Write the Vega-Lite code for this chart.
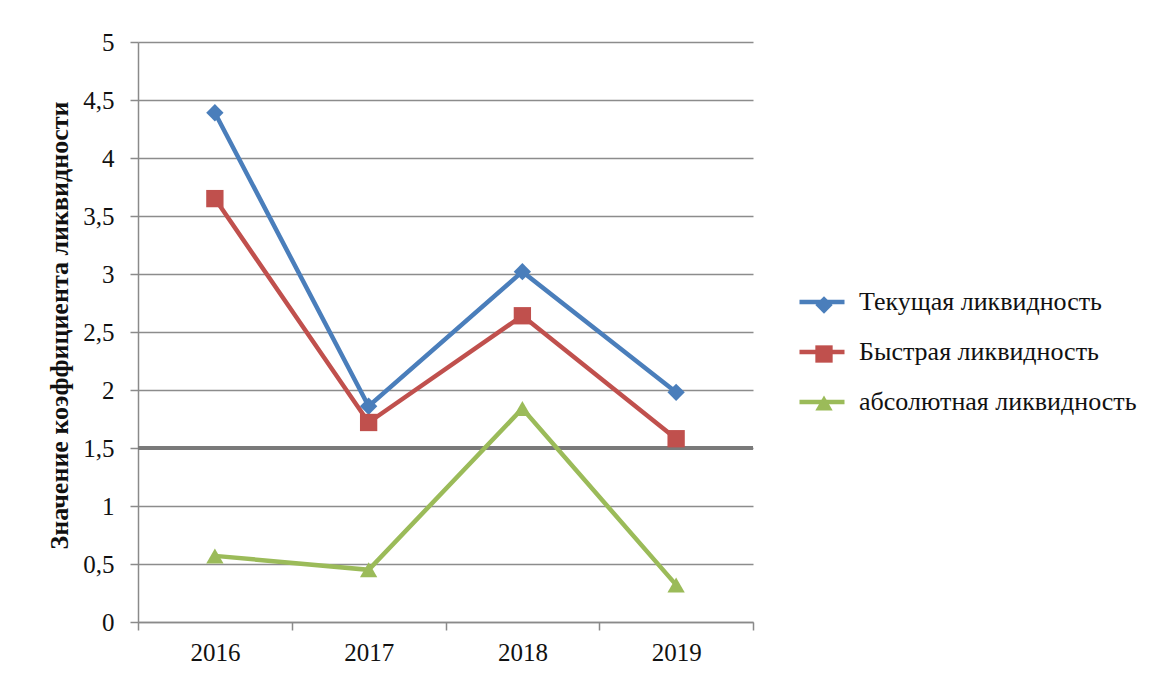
{
  "$schema": "https://vega.github.io/schema/vega-lite/v6.json",
  "width": 615,
  "height": 580,
  "autosize": {"type": "none"},
  "padding": {"left": 138, "top": 42, "right": 400, "bottom": 55},
  "background": "white",
  "config": {
    "font": "Liberation Serif",
    "view": {"stroke": null},
    "axis": {
      "domainColor": "#8a8a8a",
      "domainWidth": 1.5,
      "tickColor": "#8a8a8a",
      "tickWidth": 1.5,
      "tickSize": 8,
      "gridColor": "#8c8c8c",
      "gridWidth": 1.5,
      "labelColor": "#111111",
      "labelFont": "Liberation Serif",
      "labelFontSize": 25
    },
    "legend": {
      "labelFont": "Liberation Serif",
      "labelFontSize": 26,
      "labelColor": "#111111",
      "labelLimit": 400
    }
  },
  "resolve": {"legend": {"color": "independent", "shape": "independent"}},
  "data": {
    "values": [
      {"year": "2016", "series": "Текущая ликвидность", "value": 4.39},
      {"year": "2017", "series": "Текущая ликвидность", "value": 1.86},
      {"year": "2018", "series": "Текущая ликвидность", "value": 3.02},
      {"year": "2019", "series": "Текущая ликвидность", "value": 1.98},
      {"year": "2016", "series": "Быстрая ликвидность", "value": 3.65},
      {"year": "2017", "series": "Быстрая ликвидность", "value": 1.72},
      {"year": "2018", "series": "Быстрая ликвидность", "value": 2.64},
      {"year": "2019", "series": "Быстрая ликвидность", "value": 1.58},
      {"year": "2016", "series": "абсолютная ликвидность", "value": 0.57},
      {"year": "2017", "series": "абсолютная ликвидность", "value": 0.45},
      {"year": "2018", "series": "абсолютная ликвидность", "value": 1.84},
      {"year": "2019", "series": "абсолютная ликвидность", "value": 0.32}
    ]
  },
  "encoding": {
    "x": {
      "field": "year",
      "type": "ordinal",
      "scale": {"type": "band", "paddingInner": 0, "paddingOuter": 0},
      "axis": {
        "title": null,
        "labelAngle": 0,
        "tickBand": "extent",
        "labelPadding": 10,
        "grid": false
      }
    },
    "y": {
      "field": "value",
      "type": "quantitative",
      "scale": {"domain": [0, 5], "nice": false},
      "axis": {
        "values": [0, 0.5, 1, 1.5, 2, 2.5, 3, 3.5, 4, 4.5, 5],
        "labelExpr": "replace(format(datum.value, ''), '.', ',')",
        "grid": true,
        "labelPadding": 16,
        "title": "Значение коэффициента ликвидности",
        "titleFont": "Liberation Serif",
        "titleFontSize": 26,
        "titleFontWeight": "bold",
        "titleColor": "#111111",
        "titleX": -79,
        "titleY": 283,
        "titleAngle": -90,
        "titleAlign": "center",
        "titleBaseline": "middle"
      }
    }
  },
  "layer": [
    {
      "mark": {"type": "rule", "color": "#7a7a7a", "strokeWidth": 3},
      "encoding": {"y": {"datum": 1.5}, "x": null}
    },
    {
      "mark": {"type": "line", "strokeWidth": 4.5},
      "encoding": {
        "color": {
          "field": "series",
          "type": "nominal",
          "sort": ["Текущая ликвидность", "Быстрая ликвидность", "абсолютная ликвидность"],
          "scale": {
            "domain": ["Текущая ликвидность", "Быстрая ликвидность", "абсолютная ликвидность"],
            "range": ["#4a7ebb", "#c0504d", "#9bbb59"]
          },
          "legend": {
            "title": null,
            "orient": "none",
            "legendX": 659,
            "legendY": 235,
            "symbolType": "stroke",
            "symbolSize": 2025,
            "symbolStrokeWidth": 4.5,
            "labelOffset": 12,
            "rowPadding": 12
          }
        }
      }
    },
    {
      "mark": {"type": "point", "filled": true, "opacity": 1},
      "encoding": {
        "color": {
          "field": "series",
          "type": "nominal",
          "scale": {
            "domain": ["Текущая ликвидность", "Быстрая ликвидность", "абсолютная ликвидность"],
            "range": ["#4a7ebb", "#c0504d", "#9bbb59"]
          },
          "legend": {
            "title": null,
            "orient": "none",
            "legendX": 673,
            "legendY": 250,
            "symbolSize": 300,
            "labelExpr": "''",
            "rowPadding": 23
          }
        },
        "shape": {
          "field": "series",
          "type": "nominal",
          "scale": {
            "domain": ["Текущая ликвидность", "Быстрая ликвидность", "абсолютная ликвидность"],
            "range": ["diamond", "square", "triangle-up"]
          },
          "legend": {
            "title": null,
            "orient": "none",
            "legendX": 673,
            "legendY": 250,
            "symbolSize": 300,
            "labelExpr": "''",
            "rowPadding": 23
          }
        },
        "size": {
          "field": "series",
          "type": "nominal",
          "scale": {
            "domain": ["Текущая ликвидность", "Быстрая ликвидность", "абсолютная ликвидность"],
            "range": [300, 300, 330]
          },
          "legend": null
        }
      }
    }
  ]
}
